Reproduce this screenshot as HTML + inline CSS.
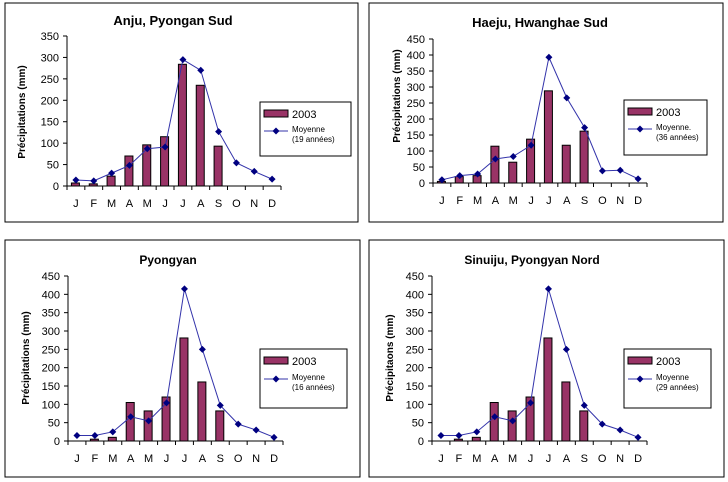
<!DOCTYPE html>
<html><head><meta charset="utf-8"><style>
html,body{margin:0;padding:0;background:#fff;width:728px;height:482px;overflow:hidden}
svg{display:block}
text{font-family:"Liberation Sans",Arial,sans-serif}
</style></head><body>
<svg id="s" width="728" height="482" xmlns="http://www.w3.org/2000/svg">
<rect x="5" y="3" width="353" height="219" fill="#fff" stroke="#000"/>
<rect x="369" y="3" width="354" height="219" fill="#fff" stroke="#000"/>
<rect x="5" y="240" width="355" height="237" fill="#fff" stroke="#000"/>
<rect x="369" y="240" width="355" height="237" fill="#fff" stroke="#000"/>
<text x="173" y="25" font-size="13" font-weight="bold" text-anchor="middle">Anju, Pyongan Sud</text>
<text x="540" y="27" font-size="13" font-weight="bold" text-anchor="middle">Haeju, Hwanghae Sud</text>
<text x="168" y="264" font-size="12" font-weight="bold" text-anchor="middle">Pyongyan</text>
<text x="532" y="264" font-size="12" font-weight="bold" text-anchor="middle">Sinuiju, Pyongyan Nord</text>
<text transform="translate(25,112) rotate(-90)" font-size="10" font-weight="bold" text-anchor="middle">Précipitations (mm)</text>
<text transform="translate(400,96) rotate(-90)" font-size="10" font-weight="bold" text-anchor="middle">Précipitations (mm)</text>
<text transform="translate(29,358) rotate(-90)" font-size="10" font-weight="bold" text-anchor="middle">Précipitations (mm)</text>
<text transform="translate(393,358) rotate(-90)" font-size="10" font-weight="bold" text-anchor="middle">Précipitaons (mm)</text>
<g id="g"></g>
</svg>
<script>
var M=["J","F","M","A","M","J","J","A","S","O","N","D"];
var P=[
{x0:67,x1:281,y0:186,yt:36,max:350,b:[7,5,23,70,96,115,284,235,93],l:[14,12,30,48,87,91,295,270,127,54,34,16],lg:[260,102,91,54],t:"Moyenne",t2:"(19 années)"},
{x0:433,x1:647,y0:183,yt:39,max:450,b:[5,20,23,115,65,137,288,118,162],l:[10,23,28,75,83,118,393,266,173,38,40,13],lg:[624,100,83,55],t:"Moyenne.",t2:"(36 années)"},
{x0:68,x1:283,y0:441,yt:276,max:450,b:[0,5,10,105,82,120,281,161,82],l:[15,15,25,66,55,104,415,250,97,46,30,10],lg:[260,349,87,59],t:"Moyenne",t2:"(16 années)"},
{x0:432,x1:647,y0:441,yt:276,max:450,b:[0,5,10,105,82,120,281,161,82],l:[15,15,25,66,55,104,415,250,97,46,30,10],lg:[624,349,87,59],t:"Moyenne",t2:"(29 années)"}
];
var h="";
P.forEach(function(p){
 var w=(p.x1-p.x0)/12, sc=(p.y0-p.yt)/p.max;
 function Y(v){return p.y0-v*sc;}
 h+='<line x1="'+p.x0+'" y1="'+p.yt+'" x2="'+p.x0+'" y2="'+p.y0+'" stroke="#000"/>';
 for(var v=0;v<=p.max;v+=50){var y=Y(v);
  h+='<line x1="'+(p.x0-4)+'" y1="'+y+'" x2="'+p.x0+'" y2="'+y+'" stroke="#000"/>';
  h+='<text x="'+(p.x0-8)+'" y="'+(y+4)+'" font-size="11" text-anchor="end">'+v+'</text>';}
 h+='<line x1="'+p.x0+'" y1="'+p.y0+'" x2="'+p.x1+'" y2="'+p.y0+'" stroke="#000"/>';
 for(var i=0;i<=12;i++){var x=p.x0+i*w;h+='<line x1="'+x+'" y1="'+p.y0+'" x2="'+x+'" y2="'+(p.y0+4)+'" stroke="#000"/>';}
 for(i=0;i<12;i++){var c=p.x0+(i+.5)*w;
  h+='<text x="'+c+'" y="'+(p.y0+21)+'" font-size="11" text-anchor="middle">'+M[i]+'</text>';
  if(i<p.b.length&&p.b[i]>0){h+='<rect x="'+(c-4.5)+'" y="'+Y(p.b[i])+'" width="8" height="'+(p.b[i]*sc)+'" fill="#993366" stroke="#000" stroke-width="1"/>';}}
 var pts=p.l.map(function(v,i){return (p.x0+(i+.5)*w)+','+Y(v);});
 h+='<polyline points="'+pts.join(' ')+'" fill="none" stroke="#3333aa" stroke-width="1"/>';
 p.l.forEach(function(v,i){var x=p.x0+(i+.5)*w,y=Y(v);h+='<polygon points="'+x+','+(y-3.5)+' '+(x+3.5)+','+y+' '+x+','+(y+3.5)+' '+(x-3.5)+','+y+'" fill="#000080"/>';});
 var L=p.lg;
 h+='<rect x="'+L[0]+'" y="'+L[1]+'" width="'+L[2]+'" height="'+L[3]+'" fill="#fff" stroke="#000"/>';
 h+='<rect x="'+(L[0]+4)+'" y="'+(L[1]+8)+'" width="24" height="7" fill="#993366" stroke="#000"/>';
 h+='<text x="'+(L[0]+32)+'" y="'+(L[1]+16)+'" font-size="11">2003</text>';
 var ly=L[1]+(L[3]>55?30:29);
 h+='<line x1="'+(L[0]+4)+'" y1="'+ly+'" x2="'+(L[0]+28)+'" y2="'+ly+'" stroke="#3333aa"/>';
 var mx=L[0]+16;h+='<polygon points="'+mx+','+(ly-3.5)+' '+(mx+3.5)+','+ly+' '+mx+','+(ly+3.5)+' '+(mx-3.5)+','+ly+'" fill="#000080"/>';
 h+='<text x="'+(L[0]+32)+'" y="'+(ly+1)+'" font-size="8">'+p.t+'</text>';
 h+='<text x="'+(L[0]+32)+'" y="'+(ly+11)+'" font-size="8">'+p.t2+'</text>';
});
document.getElementById("g").innerHTML=h;
</script>
</body></html>
